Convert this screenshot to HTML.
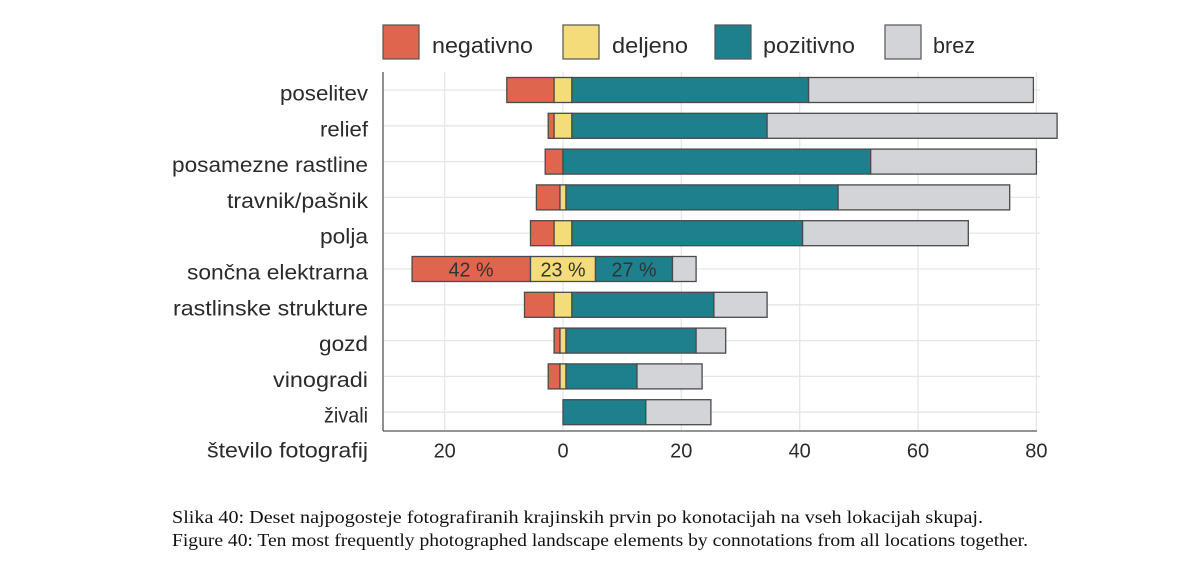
<!DOCTYPE html>
<html><head><meta charset="utf-8"><style>
html,body{margin:0;padding:0;background:#fff;}
svg{display:block;}
</style></head><body>
<svg width="1200" height="573" viewBox="0 0 1200 573" xmlns="http://www.w3.org/2000/svg" font-family="Liberation Sans, DejaVu Sans, sans-serif">
<rect width="1200" height="573" fill="#fff"/>
<!-- legend -->
<g stroke="#555" stroke-width="1.2">
<rect x="383" y="25" width="36" height="34" fill="#e0654f"/>
<rect x="563" y="25" width="36" height="34" fill="#f5dc7a"/>
<rect x="715" y="25" width="36" height="34" fill="#1d808c"/>
<rect x="885" y="25" width="36" height="34" fill="#d3d4d8"/>
</g>
<g font-size="22" fill="#2b2b2b">
<text x="432" y="53" textLength="101" lengthAdjust="spacingAndGlyphs">negativno</text>
<text x="612" y="53" textLength="76" lengthAdjust="spacingAndGlyphs">deljeno</text>
<text x="763" y="53" textLength="92" lengthAdjust="spacingAndGlyphs">pozitivno</text>
<text x="933" y="53" textLength="42" lengthAdjust="spacingAndGlyphs">brez</text>
</g>
<!-- grid -->
<g stroke="#e6e6e6" stroke-width="1.3">
<line x1="444.7" y1="72" x2="444.7" y2="430"/>
<line x1="563" y1="72" x2="563" y2="430"/>
<line x1="681.3" y1="72" x2="681.3" y2="430"/>
<line x1="799.7" y1="72" x2="799.7" y2="430"/>
<line x1="918" y1="72" x2="918" y2="430"/>
<line x1="1036.4" y1="72" x2="1036.4" y2="430"/>
<line x1="383" y1="90" x2="1040" y2="90"/>
<line x1="383" y1="125.8" x2="1040" y2="125.8"/>
<line x1="383" y1="161.6" x2="1040" y2="161.6"/>
<line x1="383" y1="197.4" x2="1040" y2="197.4"/>
<line x1="383" y1="233.2" x2="1040" y2="233.2"/>
<line x1="383" y1="269" x2="1040" y2="269"/>
<line x1="383" y1="304.8" x2="1040" y2="304.8"/>
<line x1="383" y1="340.6" x2="1040" y2="340.6"/>
<line x1="383" y1="376.4" x2="1040" y2="376.4"/>
<line x1="383" y1="412.2" x2="1040" y2="412.2"/>
</g>
<!-- bars -->
<g stroke="#4a4a4a" stroke-width="1.3">
<!-- row1 -->
<rect x="506.8" y="77.5" width="47.3" height="25" fill="#e0654f"/>
<rect x="554.1" y="77.5" width="17.8" height="25" fill="#f5dc7a"/>
<rect x="571.9" y="77.5" width="236.7" height="25" fill="#1d808c"/>
<rect x="808.6" y="77.5" width="224.8" height="25" fill="#d3d4d8"/>
<!-- row2 -->
<rect x="548.2" y="113.3" width="5.9" height="25" fill="#e0654f"/>
<rect x="554.1" y="113.3" width="17.8" height="25" fill="#f5dc7a"/>
<rect x="571.9" y="113.3" width="195.2" height="25" fill="#1d808c"/>
<rect x="767.1" y="113.3" width="290" height="25" fill="#d3d4d8"/>
<!-- row3 -->
<rect x="545.2" y="149.1" width="17.8" height="25" fill="#e0654f"/>
<rect x="563" y="149.1" width="307.7" height="25" fill="#1d808c"/>
<rect x="870.7" y="149.1" width="165.7" height="25" fill="#d3d4d8"/>
<!-- row4 -->
<rect x="536.4" y="184.9" width="23.6" height="25" fill="#e0654f"/>
<rect x="560" y="184.9" width="6" height="25" fill="#f5dc7a"/>
<rect x="566" y="184.9" width="272.1" height="25" fill="#1d808c"/>
<rect x="838.1" y="184.9" width="171.6" height="25" fill="#d3d4d8"/>
<!-- row5 -->
<rect x="530.5" y="220.7" width="23.6" height="25" fill="#e0654f"/>
<rect x="554.1" y="220.7" width="17.8" height="25" fill="#f5dc7a"/>
<rect x="571.9" y="220.7" width="230.7" height="25" fill="#1d808c"/>
<rect x="802.6" y="220.7" width="165.7" height="25" fill="#d3d4d8"/>
<!-- row6 -->
<rect x="412.1" y="256.5" width="118.4" height="25" fill="#e0654f"/>
<rect x="530.5" y="256.5" width="65" height="25" fill="#f5dc7a"/>
<rect x="595.5" y="256.5" width="77" height="25" fill="#1d808c"/>
<rect x="672.5" y="256.5" width="23.6" height="25" fill="#d3d4d8"/>
<!-- row7 -->
<rect x="524.5" y="292.3" width="29.6" height="25" fill="#e0654f"/>
<rect x="554.1" y="292.3" width="17.8" height="25" fill="#f5dc7a"/>
<rect x="571.9" y="292.3" width="142" height="25" fill="#1d808c"/>
<rect x="713.9" y="292.3" width="53.2" height="25" fill="#d3d4d8"/>
<!-- row8 -->
<rect x="554.1" y="328.1" width="5.9" height="25" fill="#e0654f"/>
<rect x="560" y="328.1" width="6" height="25" fill="#f5dc7a"/>
<rect x="566" y="328.1" width="130.1" height="25" fill="#1d808c"/>
<rect x="696.1" y="328.1" width="29.6" height="25" fill="#d3d4d8"/>
<!-- row9 -->
<rect x="548.2" y="363.9" width="11.8" height="25" fill="#e0654f"/>
<rect x="560" y="363.9" width="6" height="25" fill="#f5dc7a"/>
<rect x="566" y="363.9" width="71" height="25" fill="#1d808c"/>
<rect x="637" y="363.9" width="65.1" height="25" fill="#d3d4d8"/>
<!-- row10 -->
<rect x="563" y="399.7" width="82.8" height="25" fill="#1d808c"/>
<rect x="645.8" y="399.7" width="65.1" height="25" fill="#d3d4d8"/>
</g>
<!-- percent labels -->
<g font-size="20" fill="#333" text-anchor="middle">
<text x="471" y="276.5" textLength="45" lengthAdjust="spacingAndGlyphs">42 %</text>
<text x="563" y="276.5" textLength="45" lengthAdjust="spacingAndGlyphs">23 %</text>
<text x="634" y="276.5" textLength="45" lengthAdjust="spacingAndGlyphs">27 %</text>
</g>
<!-- axes -->
<g stroke="#555" stroke-width="1.3">
<line x1="383" y1="72" x2="383" y2="431"/>
<line x1="383" y1="431" x2="1037" y2="431"/>
</g>
<!-- category labels -->
<g font-size="21" fill="#2b2b2b" text-anchor="end">
<text x="368" y="100.5" textLength="88" lengthAdjust="spacingAndGlyphs">poselitev</text>
<text x="368" y="136.3" textLength="48" lengthAdjust="spacingAndGlyphs">relief</text>
<text x="368" y="172.1" textLength="196" lengthAdjust="spacingAndGlyphs">posamezne rastline</text>
<text x="368" y="207.9" textLength="141" lengthAdjust="spacingAndGlyphs">travnik/pašnik</text>
<text x="368" y="243.7" textLength="48" lengthAdjust="spacingAndGlyphs">polja</text>
<text x="368" y="279.5" textLength="181" lengthAdjust="spacingAndGlyphs">sončna elektrarna</text>
<text x="368" y="315.3" textLength="195" lengthAdjust="spacingAndGlyphs">rastlinske strukture</text>
<text x="368" y="351.1" textLength="49" lengthAdjust="spacingAndGlyphs">gozd</text>
<text x="368" y="386.9" textLength="95" lengthAdjust="spacingAndGlyphs">vinogradi</text>
<text x="368" y="422.7" textLength="44" lengthAdjust="spacingAndGlyphs">živali</text>
<text x="368" y="457.5" textLength="161" lengthAdjust="spacingAndGlyphs">število fotografij</text>
</g>
<!-- tick labels -->
<g font-size="20" fill="#2b2b2b" text-anchor="middle">
<text x="444.7" y="457.5">20</text>
<text x="563" y="457.5">0</text>
<text x="681.3" y="457.5">20</text>
<text x="799.7" y="457.5">40</text>
<text x="918" y="457.5">60</text>
<text x="1036.4" y="457.5">80</text>
</g>
<!-- caption -->
<g font-family="Liberation Serif, DejaVu Serif, serif" font-size="18" fill="#111">
<text x="172" y="523" textLength="811" lengthAdjust="spacingAndGlyphs">Slika 40: Deset najpogosteje fotografiranih krajinskih prvin po konotacijah na vseh lokacijah skupaj.</text>
<text x="172" y="546" textLength="856" lengthAdjust="spacingAndGlyphs">Figure 40: Ten most frequently photographed landscape elements by connotations from all locations together.</text>
</g>
</svg>
</body></html>
